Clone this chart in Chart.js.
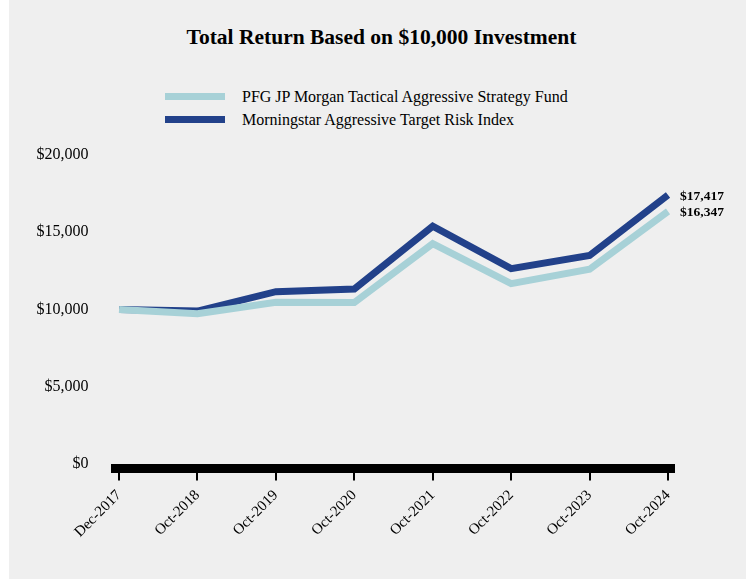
<!DOCTYPE html>
<html>
<head>
<meta charset="utf-8">
<script src="https://cdn.jsdelivr.net/npm/chart.js@4.4.1/dist/chart.umd.min.js"></script>
<style>
  html, body { margin: 0; padding: 0; background: #fff; }
  #frame {
    position: absolute; left: 9px; top: 0; width: 737px; height: 579px;
    background: #efefef; font-family: "Liberation Serif", "Times New Roman", serif; color: #000;
  }
  #title {
    position: absolute; left: 0; top: 25px; width: 100%; padding-left: 8px; box-sizing: border-box;
    text-align: center; font-weight: bold; font-size: 21.5px; line-height: 24px;
  }
  #legend { position: absolute; left: 156px; top: 85px; font-size: 16px; }
  .item { display: flex; align-items: center; height: 23px; }
  .swatch { width: 60px; height: 7px; margin-right: 17px; }
  canvas { position: absolute; left: 0; top: 0; }
</style>
</head>
<body>
<div id="frame">
  <div id="title">Total Return Based on $10,000 Investment</div>
  <div id="legend"></div>
  <canvas id="returnChart" width="737" height="579"></canvas>
</div>
<script>
// values
const periods = ['Dec-2017', 'Oct-2018', 'Oct-2019', 'Oct-2020', 'Oct-2021', 'Oct-2022', 'Oct-2023', 'Oct-2024'];
const fundValues = [10000, 9720, 10470, 10450, 14260, 11670, 12600, 16347];
const indexValues = [10000, 9900, 11150, 11320, 15390, 12640, 13500, 17417];
const yTicks = [0, 5000, 10000, 15000, 20000];
const seriesNames = ['PFG JP Morgan Tactical Aggressive Strategy Fund', 'Morningstar Aggressive Target Risk Index'];
const seriesColors = ['#a7d1d7', '#22418a'];

const serif = '"Liberation Serif", "Times New Roman", serif';
const money = v => '$' + v.toLocaleString('en-US');

// legend (stacked, like the original)
const legendEl = document.getElementById('legend');
seriesNames.forEach((name, i) => {
    const row = document.createElement('div');
    row.className = 'item';
    row.innerHTML = `<span class="swatch" style="background:${seriesColors[i]}"></span><span>${name}</span>`;
    legendEl.appendChild(row);
});

// value labels at the end of each line
const endLabels = {
    id: 'endLabels',
    afterDatasetsDraw(chart) {
        const ctx = chart.ctx;
        chart.data.datasets.forEach((ds, i) => {
            const meta = chart.getDatasetMeta(i);
            const pt = meta.data[meta.data.length - 1];
            const last = ds.data[ds.data.length - 1].y;
            ctx.save();
            ctx.font = `bold 13.5px ${serif}`;
            ctx.fillStyle = '#000';
            ctx.textAlign = 'left';
            ctx.textBaseline = 'middle';
            ctx.fillText(money(last), pt.x + 12, pt.y + 1.5);
            ctx.restore();
        });
    }
};

const toPoints = arr => arr.map((v, i) => ({ x: i, y: v }));

new Chart(document.getElementById('returnChart'), {
    type: 'line',
    data: {
        datasets: [
            {
                label: seriesNames[0],
                data: toPoints(fundValues),
                borderColor: seriesColors[0],
                borderWidth: 7,
                pointRadius: 0,
                tension: 0
            },
            {
                label: seriesNames[1],
                data: toPoints(indexValues),
                borderColor: seriesColors[1],
                borderWidth: 7,
                pointRadius: 0,
                tension: 0
            }
        ]
    },
    options: {
        responsive: false,
        animation: false,
        layout: { padding: { left: 20, top: 155, right: 72.5, bottom: 30.4 } },
        plugins: {
            legend: { display: false },
            tooltip: { enabled: false }
        },
        scales: {
            x: {
                type: 'linear',
                min: -0.045,
                max: 7.07,
                afterBuildTicks: s => { s.ticks = periods.map((_, i) => ({ value: i })); },
                afterFit: s => { s.height = 80; },
                ticks: {
                    callback: v => periods[v],
                    autoSkip: false,
                    minRotation: 45,
                    maxRotation: 45,
                    padding: 6,
                    color: '#000',
                    font: { family: serif, size: 15 }
                },
                grid: { drawOnChartArea: false, tickLength: 12, tickColor: '#000', tickWidth: 2, lineWidth: 2 },
                border: { display: true, color: '#000', width: 9 }
            },
            y: {
                min: -300,
                max: 20000,
                afterBuildTicks: s => { s.ticks = yTicks.map(v => ({ value: v })); },
                afterFit: s => { s.width = 86.5; },
                ticks: {
                    callback: v => money(v),
                    padding: 27,
                    color: '#000',
                    font: { family: serif, size: 16 }
                },
                grid: { display: false, drawTicks: false },
                border: { display: false }
            }
        }
    },
    plugins: [endLabels]
});
</script>
</body>
</html>
